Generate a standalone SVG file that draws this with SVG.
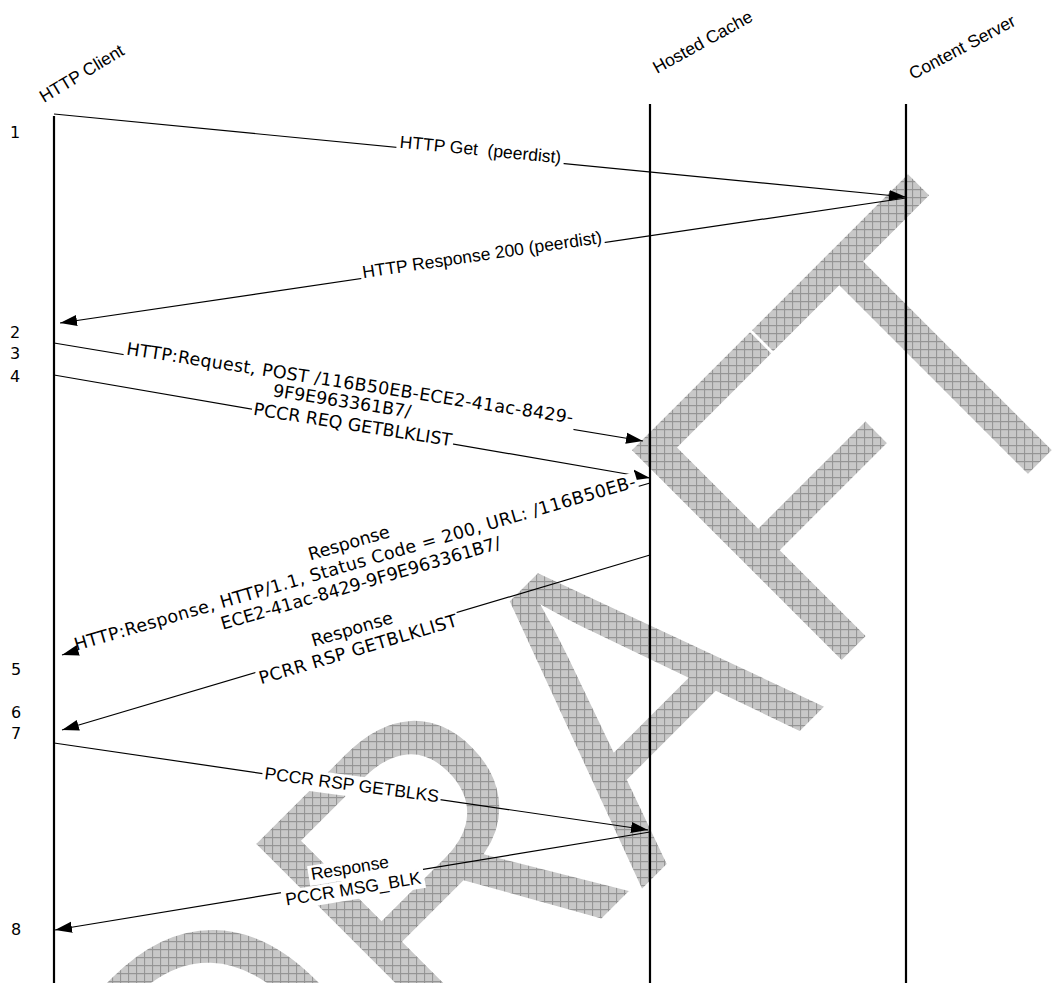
<svg xmlns="http://www.w3.org/2000/svg" width="1054" height="983" viewBox="0 0 1054 983">
<style>
.hdr{font-family:"Liberation Sans",Arial,sans-serif;font-size:17.5px;fill:#000}
.num{font-family:"DejaVu Sans",Verdana,sans-serif;font-size:16px;fill:#000}
.a{font-family:"Liberation Sans",Arial,sans-serif;font-size:17.5px;fill:#000;text-anchor:middle}
.v{font-family:"DejaVu Sans",Verdana,sans-serif;font-size:17.5px;fill:#000;text-anchor:middle}
.bg{fill:#fff}
.life{stroke:#000;stroke-width:2.2;fill:none}
.msg{stroke:#000;stroke-width:1.2;fill:none}
.arr{marker-end:url(#arrow)}
</style>
<defs>
<marker id="arrow" markerUnits="userSpaceOnUse" markerWidth="18" markerHeight="12" refX="17" refY="6" orient="auto">
<path d="M0,0.5 L17,6 L0,11.5 Z" fill="#000"/>
</marker>
<pattern id="hatch" width="8" height="8" patternUnits="userSpaceOnUse" patternTransform="scale(1,0.9058) rotate(45)">
<rect width="8" height="8" fill="#c8c8c8"/>
<path d="M0,0.5H8M0.5,0V8" stroke="#939393" stroke-width="1"/>
</pattern>
</defs>
<rect width="1054" height="983" fill="#fff"/>

<g id="watermark" fill="url(#hatch)" stroke="#fff" stroke-width="3" font-family="Liberation Sans, Arial, sans-serif" font-size="395" transform="translate(840,661) rotate(-45) scale(1,1.104)">
<text x="-861" y="7">D</text>
<text x="-576" y="13.6">R</text>
<text x="-304" y="20.5">A</text>
<text x="-32" y="2">F</text>
<text x="161.5" y="2">T</text>
</g>

<g id="http-client">
<text class="hdr" transform="translate(44,103) rotate(-31)">HTTP Client</text>
<line class="life" x1="54" y1="116" x2="54" y2="983"/>
</g>
<g id="hosted-cache">
<text class="hdr" transform="translate(657,74) rotate(-29)">Hosted Cache</text>
<line class="life" x1="650" y1="104" x2="650" y2="983"/>
</g>
<g id="content-server">
<text class="hdr" transform="translate(913,80) rotate(-28)">Content Server</text>
<line class="life" x1="906" y1="104" x2="906" y2="983"/>
</g>

<g id="steps">
<text class="num" x="10" y="138">1</text>
<text class="num" x="10" y="338">2</text>
<text class="num" x="10" y="359">3</text>
<text class="num" x="10" y="382">4</text>
<text class="num" x="11" y="675">5</text>
<text class="num" x="11" y="718">6</text>
<text class="num" x="11" y="739">7</text>
<text class="num" x="11" y="935">8</text>
</g>

<g id="connectors">
<line class="msg arr" x1="54" y1="114" x2="906" y2="197"/>
<line class="msg arr" x1="906" y1="198" x2="60" y2="323"/>
<line class="msg arr" x1="54" y1="343" x2="643" y2="441"/>
<line class="msg arr" x1="54" y1="375" x2="650" y2="478"/>
<line class="msg arr" x1="650" y1="483" x2="62" y2="655"/>
<line class="msg arr" x1="650" y1="555" x2="62" y2="730"/>
<line class="msg arr" x1="54" y1="743" x2="648" y2="830"/>
<line class="msg arr" x1="650" y1="832" x2="55" y2="930"/>

<g id="label1" transform="translate(480,155.5) rotate(5.565)">
<rect class="bg" x="-84" y="-15" width="168" height="19.5"/>
<text class="a" x="0" y="0" xml:space="preserve">HTTP Get  (peerdist)</text>
</g>
<g id="label2" transform="translate(483,260.5) rotate(-8.405)">
<rect class="bg" x="-123" y="-15" width="246" height="19.5"/>
<text class="a" x="0" y="0">HTTP Response 200 (peerdist)</text>
</g>
<g id="label3" transform="translate(349,389) rotate(8.8)">
<rect class="bg" x="-228" y="-15" width="456" height="22"/>
<rect class="bg" x="-76" y="5" width="142" height="19"/>
<text class="v" x="0" y="0" textLength="452">HTTP:Request, POST /116B50EB-ECE2-41ac-8429-</text>
<text class="v" x="-5" y="19">9F9E963361B7/</text>
</g>
<g id="label4" transform="translate(352.5,426.6) rotate(9.0)">
<rect class="bg" x="-102" y="-11" width="204" height="21"/>
<text class="v" x="0" y="4">PCCR REQ GETBLKLIST</text>
</g>
<g id="label5" transform="translate(356.5,568.85) rotate(-16.305)">
<rect class="bg" x="-45" y="-36" width="90" height="20"/>
<rect class="bg" x="-290" y="-15" width="584" height="20"/>
<rect class="bg" x="-148" y="6" width="296" height="20"/>
<text class="v" x="0" y="-21">Response</text>
<text class="v" x="0" y="0" textLength="584">HTTP:Response, HTTP/1.1, Status Code = 200, URL: /116B50EB-</text>
<text class="v" x="0" y="21">ECE2-41ac-8429-9F9E963361B7/</text>
</g>
<g id="label6" transform="translate(356,642.5) rotate(-16.574)">
<rect class="bg" x="-45" y="-23" width="90" height="20"/>
<rect class="bg" x="-105" y="-2" width="210" height="20"/>
<text class="v" x="0" y="-8">Response</text>
<text class="v" x="0" y="13" textLength="206">PCRR RSP GETBLKLIST</text>
</g>
<g id="label7" transform="translate(351.5,786.6) rotate(7.6)">
<rect class="bg" x="-90" y="-11" width="180" height="21"/>
<text class="a" x="0" y="4">PCCR RSP GETBLKS</text>
</g>
<g id="label8" transform="translate(352,881.1) rotate(-9.353)">
<rect class="bg" x="-42" y="-22" width="84" height="20"/>
<rect class="bg" x="-72" y="-1.5" width="144" height="20"/>
<text class="a" x="0" y="-7.5">Response</text>
<text class="a" x="0" y="13.5">PCCR MSG_BLK</text>
</g>
</g>
</svg>
